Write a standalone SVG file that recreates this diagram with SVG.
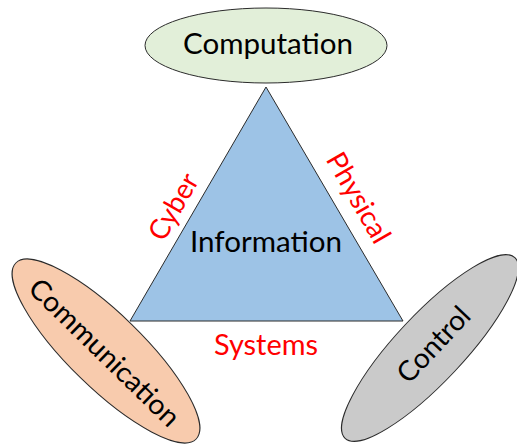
<svg xmlns="http://www.w3.org/2000/svg" width="517" height="444" viewBox="0 0 517 444">
  <style>
    .shape { stroke: #2b2b2b; stroke-width: 1; }
    .lbl { font-family: Lato, "Liberation Sans", sans-serif; font-size: 28px; text-anchor: middle; }
    .blk { fill: #000000; }
    .red { fill: #ff0000; }
  </style>
  <rect width="517" height="444" fill="#ffffff"/>
  <g id="information">
    <polygon class="shape" points="266,87 130,321 403,321" fill="#9dc3e6"/>
    <text class="lbl blk" x="266" y="252" textLength="152" lengthAdjust="spacingAndGlyphs">Information</text>
  </g>
  <g id="connectors">
    <text class="lbl red" transform="translate(174,207) rotate(-60)" x="0" y="9" textLength="72" lengthAdjust="spacingAndGlyphs">Cyber</text>
    <text class="lbl red" transform="translate(358,198) rotate(60)" x="0" y="9" textLength="100" lengthAdjust="spacingAndGlyphs">Physical</text>
    <text class="lbl red" x="266" y="355" textLength="104" lengthAdjust="spacingAndGlyphs">Systems</text>
  </g>
  <g id="computation">
    <ellipse class="shape" cx="266" cy="45.5" rx="121" ry="37.5" fill="#e2efd9"/>
    <text class="lbl blk" x="268" y="54" textLength="170" lengthAdjust="spacingAndGlyphs">Computation</text>
  </g>
  <g id="communication">
    <ellipse class="shape" cx="0" cy="0" rx="126" ry="37" fill="#f8cbad" transform="translate(106,351) rotate(44.3)"/>
    <text class="lbl blk" transform="translate(104,353) rotate(44.3)" x="0" y="9" textLength="198" lengthAdjust="spacingAndGlyphs">Communication</text>
  </g>
  <g id="control">
    <ellipse class="shape" cx="0" cy="0" rx="124" ry="34" fill="#cacaca" transform="translate(430,348) rotate(-46.8)"/>
    <text class="lbl blk" transform="translate(434,345) rotate(-46.8)" x="0" y="9" textLength="93" lengthAdjust="spacingAndGlyphs">Control</text>
  </g>
</svg>
